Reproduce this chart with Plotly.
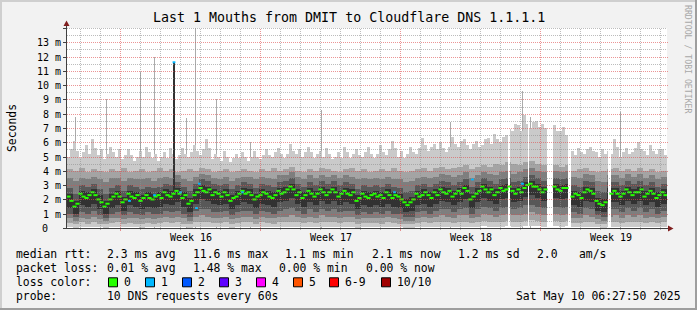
import numpy as np
import plotly.graph_objects as go

# ---------------------------------------------------------------- data
TITLE = "Last 1 Mouths from DMIT to Cloudflare DNS 1.1.1.1"
Y_TITLE = "Seconds"
WATERMARK = "RRDTOOL / TOBI OETIKER"
TIMESTAMP = "Sat May 10 06:27:50 2025"
PROBE_TEXT = "10 DNS requests every 60s"

DAYS_SHOWN = 30
Y_MAX = 14
BIN_DAYS = 0.3                      # one smoke column = 7.2 h
FINE_DAYS = 0.15                    # median / max columns = 3.6 h

# day grid / week boundaries (days from the left edge of the graph)
day_lines = [0.675 + k for k in range(30)]
week_start = [2.675, 9.675, 16.675, 23.675]
week_labels = ["Week 16", "Week 17", "Week 18", "Week 19"]

y_tick_vals = list(range(0, 14))
y_tick_text = ["0"] + [f"{v} m" for v in range(1, 14)]

# median RTT per fine column (ms)
med = [2.2,1.9,1.5,1.7,2.4,2.2,2.1,2.3,2.5,2.3,2.0,1.8,1.5,1.7,2.0,2.2,2.4,2.2,1.8,2.0,
       2.4,2.2,2.1,2.3,1.9,2.1,2.3,2.1,2.0,2.2,2.3,2.1,2.5,2.3,2.2,2.4,2.6,2.4,2.1,2.3,
       1.7,1.9,2.3,2.5,2.8,2.6,2.5,2.7,2.3,2.5,2.4,2.2,2.5,2.3,1.9,2.1,2.2,2.4,2.6,2.4,
       2.5,2.3,2.0,2.2,2.3,2.5,2.4,2.2,2.1,2.3,2.6,2.4,2.5,2.7,2.9,2.7,2.3,2.5,2.1,2.3,
       2.6,2.4,2.2,2.4,2.7,2.5,2.3,2.5,2.7,2.5,2.2,2.4,2.6,2.4,2.3,2.5,1.9,2.1,2.4,2.2,
       2.1,2.3,2.4,2.2,2.3,2.1,2.5,2.3,2.1,2.3,2.2,2.0,1.8,1.6,1.8,2.0,2.4,2.2,2.3,2.5,
       2.3,2.1,2.5,2.3,2.7,2.5,2.4,2.6,2.2,2.4,2.6,2.4,2.8,2.6,2.0,2.2,2.4,2.6,2.9,2.7,
       2.5,2.7,2.3,2.5,2.8,2.6,2.7,2.9,2.6,2.4,2.7,2.5,2.8,3.0,3.1,2.9,2.9,2.7,2.5,2.7,
       None,None,2.9,2.7,2.6,2.8,2.8,None,2.2,2.4,2.3,2.1,2.5,2.7,2.6,2.4,1.9,1.7,1.6,1.8,
       None,2.4,2.6,2.4,2.2,2.4,2.7,2.5,2.3,2.5,2.5,2.7,2.2,2.4,2.6,2.4,2.1,2.3,2.5,2.3]

# slowest ping per fine column (ms)
p10 = [5.0,5.5,6.1,5.4,4.9,5.3,5.8,5.2,6.2,5.6,5.1,5.5,4.8,5.2,5.7,5.3,5.0,5.5,4.8,5.1,
       5.5,5.1,4.7,5.0,5.4,5.0,5.7,5.3,4.9,5.2,4.7,5.0,5.3,4.9,5.6,5.2,4.8,5.1,5.6,5.2,
       5.0,5.3,5.8,5.4,5.1,5.5,6.2,5.6,4.8,5.2,5.0,4.7,5.4,5.0,4.6,4.9,5.2,4.9,5.3,5.0,
       4.7,5.0,5.4,5.0,4.8,5.1,5.5,5.1,5.0,5.3,5.6,5.2,4.9,5.2,5.9,5.4,5.2,5.5,5.0,5.3,
       5.7,5.3,4.9,5.2,5.4,5.0,5.6,5.2,4.8,5.0,5.3,4.9,5.7,5.3,4.9,5.2,5.5,5.1,5.0,5.3,
       5.7,5.2,4.9,5.2,5.8,5.3,5.1,5.5,6.1,5.6,5.0,5.4,4.9,5.2,5.7,5.3,5.2,5.6,6.3,5.8,
       5.4,5.7,5.9,5.5,6.0,5.6,5.3,5.7,6.4,5.9,5.7,6.1,6.2,5.8,5.5,5.9,6.1,5.7,5.8,6.2,
       6.3,5.9,6.6,6.2,6.0,6.4,6.5,6.9,6.8,7.3,7.2,6.8,7.9,7.3,6.9,7.4,7.5,7.1,7.3,7.0,
       7.0,7.2,7.2,6.8,6.8,7.1,6.5,6.3,5.4,5.1,5.6,5.3,5.2,5.5,5.7,5.4,5.3,5.0,5.5,5.2,
       5.4,5.2,6.2,5.7,5.0,5.3,5.6,5.2,5.3,5.6,6.0,5.5,5.4,5.1,5.8,5.4,5.2,5.5,5.5,5.1]

# remaining sorted pings per smoke column (ms): p1 = fastest ... p9
p9 = [4.1,4.0,4.2,3.9,4.1,4.0,3.9,4.1,4.0,4.2,
      3.9,4.0,4.1,3.9,4.0,4.2,4.0,4.1,3.9,4.0,
      4.1,4.0,4.2,4.1,3.9,4.0,4.1,3.9,4.0,4.1,
      4.0,3.9,4.1,4.0,4.2,4.0,4.1,4.3,4.0,3.9,
      4.1,4.0,4.2,4.1,4.0,3.9,4.1,4.2,4.0,4.1,
      3.9,4.0,4.1,4.0,4.2,4.0,3.9,4.0,4.1,4.2,
      4.0,4.2,4.3,4.1,4.2,4.3,4.4,4.1,4.3,4.4,
      4.3,4.5,4.4,4.6,4.5,4.4,4.6,4.7,4.5,4.4,
      4.5,4.4,4.3,4.4,4.0,4.1,4.2,4.0,3.9,4.0,
      4.1,4.2,4.0,4.1,4.0,4.2,4.0,4.1,3.9,4.0]
p8 = [3.5,3.3,3.5,3.4,3.6,3.4,3.2,3.5,3.5,3.3,
      3.5,3.4,3.4,3.5,3.3,3.5,3.6,3.5,3.7,3.4,
      3.3,3.6,3.8,3.7,3.5,3.4,3.6,3.3,3.5,3.6,
      3.6,3.4,3.6,3.5,3.4,3.7,3.7,3.9,3.6,3.4,
      3.7,3.5,3.7,3.6,3.7,3.5,3.7,3.6,3.4,3.5,
      3.4,3.5,3.4,3.6,3.4,3.4,3.2,3.3,3.5,3.6,
      3.5,3.6,3.8,3.7,3.6,3.7,3.9,3.5,3.7,3.9,
      3.8,3.7,3.9,4.0,3.8,3.9,4.1,4.2,4.0,3.9,
      4.0,4.0,3.9,4.0,3.6,3.5,3.8,3.7,3.3,3.2,
      3.7,3.7,3.5,3.8,3.6,3.8,3.5,3.7,3.4,3.6]
p7 = [2.8,2.4,3.0,2.9,3.1,2.7,2.4,2.8,3.0,2.6,
      3.0,2.9,2.7,2.9,2.8,2.9,3.1,3.0,3.2,2.9,
      2.6,3.1,3.4,3.3,3.1,3.0,3.1,2.7,3.0,3.2,
      3.1,2.8,3.1,3.0,2.9,3.2,3.3,3.5,3.1,2.9,
      3.2,3.0,3.3,3.1,3.3,3.0,3.2,3.1,2.7,3.0,
      2.9,3.0,2.9,3.1,2.9,2.8,2.5,2.6,3.0,3.1,
      2.9,3.1,3.3,3.2,3.0,3.2,3.4,2.9,3.2,3.5,
      3.3,3.1,3.4,3.5,3.2,3.3,3.6,3.7,3.5,3.3,
      3.5,3.5,3.4,3.5,3.0,2.9,3.3,3.2,2.6,2.5,
      3.2,3.2,3.0,3.3,3.1,3.3,3.0,3.2,2.9,3.1]
p6 = [2.4,1.9,2.6,2.5,2.7,2.3,1.9,2.4,2.6,2.2,
      2.6,2.5,2.3,2.5,2.4,2.5,2.7,2.6,2.8,2.5,
      2.1,2.7,3.0,2.9,2.7,2.6,2.7,2.3,2.6,2.8,
      2.7,2.4,2.7,2.6,2.5,2.8,2.9,3.1,2.7,2.5,
      2.8,2.6,2.9,2.7,2.9,2.6,2.8,2.7,2.3,2.6,
      2.5,2.6,2.5,2.7,2.5,2.4,2.0,2.2,2.6,2.7,
      2.5,2.7,2.9,2.8,2.6,2.8,3.0,2.4,2.8,3.1,
      2.9,2.7,3.0,3.1,2.8,2.9,3.2,3.3,3.1,2.9,
      3.1,3.1,3.0,3.1,2.6,2.5,2.9,2.8,2.1,2.0,
      2.8,2.8,2.6,2.9,2.7,2.9,2.6,2.8,2.5,2.7]
p5 = [1.4,1.0,1.6,1.5,1.7,1.3,1.0,1.4,1.6,1.2,
      1.6,1.5,1.3,1.5,1.4,1.5,1.7,1.6,1.8,1.5,
      1.1,1.7,2.0,1.9,1.7,1.6,1.7,1.3,1.6,1.8,
      1.7,1.4,1.7,1.6,1.5,1.8,1.9,2.1,1.7,1.5,
      1.8,1.6,1.9,1.7,1.9,1.6,1.8,1.7,1.3,1.6,
      1.5,1.6,1.5,1.7,1.5,1.4,1.1,1.2,1.6,1.7,
      1.5,1.7,1.9,1.8,1.6,1.8,2.0,1.4,1.8,2.1,
      1.9,1.7,2.0,2.1,1.8,1.9,2.2,2.3,2.1,1.9,
      2.1,2.1,2.0,2.1,1.6,1.5,1.9,1.8,1.2,1.1,
      1.8,1.8,1.6,1.9,1.7,1.9,1.6,1.8,1.5,1.7]
p4 = [1.0,0.8,1.1,1.0,1.2,0.9,0.7,1.0,1.1,0.9,
      1.1,1.0,0.9,1.1,1.0,1.0,1.2,1.1,1.2,1.0,
      0.8,1.2,1.3,1.3,1.1,1.1,1.2,0.9,1.1,1.2,
      1.2,1.0,1.2,1.1,1.0,1.2,1.3,1.4,1.2,1.0,
      1.3,1.1,1.3,1.2,1.3,1.1,1.2,1.2,0.9,1.1,
      1.0,1.1,1.0,1.2,1.0,1.0,0.8,0.8,1.1,1.2,
      1.0,1.2,1.3,1.3,1.1,1.3,1.4,1.0,1.3,1.5,
      1.4,1.2,1.4,1.5,1.3,1.4,1.6,1.6,1.5,1.4,
      1.5,1.5,1.4,1.5,1.1,1.0,1.4,1.3,0.9,0.8,
      1.3,1.3,1.1,1.4,1.2,1.4,1.1,1.3,1.0,1.2]
p3 = [0.7,0.5,0.7,0.6,0.8,0.6,0.5,0.7,0.7,0.6,
      0.7,0.7,0.6,0.7,0.6,0.7,0.8,0.7,0.8,0.7,
      0.5,0.8,0.9,0.8,0.7,0.7,0.8,0.6,0.7,0.8,
      0.8,0.6,0.8,0.7,0.7,0.8,0.8,0.9,0.8,0.7,
      0.8,0.7,0.9,0.8,0.8,0.7,0.8,0.8,0.6,0.7,
      0.7,0.7,0.7,0.8,0.7,0.6,0.5,0.5,0.7,0.8,
      0.7,0.8,0.9,0.8,0.7,0.9,0.9,0.7,0.8,1.0,
      0.9,0.8,0.9,1.0,0.9,0.9,1.0,1.1,1.0,0.9,
      1.0,1.0,0.9,1.0,0.7,0.7,0.9,0.8,0.6,0.5,
      0.8,0.9,0.7,0.9,0.8,0.9,0.7,0.8,0.7,0.8]
p2 = [0.35,0.25,0.4,0.3,0.4,0.3,0.25,0.35,0.4,0.3,
      0.35,0.3,0.3,0.35,0.3,0.35,0.4,0.35,0.4,0.3,
      0.25,0.4,0.45,0.4,0.35,0.35,0.4,0.3,0.35,0.4,
      0.4,0.3,0.4,0.35,0.3,0.4,0.4,0.45,0.4,0.35,
      0.4,0.35,0.45,0.4,0.4,0.35,0.4,0.4,0.3,0.35,
      0.35,0.35,0.3,0.4,0.35,0.3,0.25,0.25,0.35,0.4,
      0.35,0.4,0.45,0.4,0.35,0.45,0.45,0.35,0.4,0.5,
      0.45,0.4,0.45,0.5,0.45,0.45,0.5,0.55,0.5,0.45,
      0.5,0.5,0.45,0.5,0.35,0.35,0.45,0.4,0.3,0.25,
      0.4,0.45,0.35,0.45,0.4,0.45,0.35,0.4,0.35,0.4]
p1 = [0.05,0.0,0.1,0.05,0.1,0.05,0.0,0.05,0.1,0.05,
      0.05,0.05,0.0,0.05,0.05,0.05,0.1,0.05,0.1,0.05,
      0.0,0.1,0.1,0.1,0.05,0.05,0.1,0.0,0.05,0.1,
      0.1,0.05,0.1,0.05,0.05,0.1,0.1,0.1,0.1,0.05,
      0.1,0.05,0.1,0.1,0.1,0.05,0.1,0.1,0.0,0.05,
      0.05,0.05,0.05,0.1,0.05,0.05,0.0,0.0,0.05,0.1,
      0.05,0.1,0.1,0.1,0.05,0.1,0.1,0.05,0.1,0.15,
      0.1,0.1,0.1,0.15,0.1,0.1,0.15,0.15,0.15,0.1,
      0.15,0.15,0.1,0.15,0.05,0.05,0.1,0.1,0.05,0.0,
      0.1,0.1,0.05,0.1,0.1,0.1,0.05,0.1,0.05,0.1]

# isolated slow pings (single-sample spikes): day, top (ms)
spike_day = [0.425, 1.975, 3.675, 4.375, 5.975, 6.425, 7.475, 9.175, 12.725,
             19.175, 22.775, 23.175, 27.675]
spike_ms = [7.8, 9.0, 10.9, 12.0, 7.7, 14.0, 9.0, 6.0, 8.25,
            7.4, 9.6, 7.8, 8.1]

# one sample where the whole burst was slow (dark smoke up to the median)
dark_spike_day = [5.35]
dark_spike_lo = [2.6]
dark_spike_hi = [11.6]

# medians measured with 1/10 loss
loss1_day = [3.125, 4.375, 5.675, 6.475, 6.625, 8.775, 16.375, 20.275, 22.775, 5.35]
loss1_ms = [1.9, 2.3, 2.5, 1.4, 3.1, 2.5, 2.5, 3.4, 3.1, 11.6]

# periods with no data (start day, length in days)
gap_start = [22.05, 23.05, 24.0, 25.05, 27.05]
gap_len = [0.1, 0.05, 0.3, 0.15, 0.15]

# legend statistics
median_avg, median_max, median_min, median_now, median_sd, am_s = 2.3, 11.6, 1.1, 2.1, 1.2, 2.0
loss_avg, loss_max, loss_min, loss_now = 0.01, 1.48, 0.00, 0.00
loss_labels = ["0", "1", "2", "3", "4", "5", "6-9", "10/10"]
loss_colors = ["#26ff00", "#00b8ff", "#0059ff", "#5e00ff", "#ff00ff", "#ff5500", "#ff0000", "#a00000"]

# ---------------------------------------------------------------- geometry
W, H = 697, 310
PL, PT, PW, PH = 67, 28, 600, 200
FONT = "DejaVu Sans Mono"


def fx(px):
    return (px - PL) / PW


def fy(py):
    return (PT + PH - py) / PH


def row_of(v):
    return round(PT + PH - v * PH / Y_MAX)


# ---------------------------------------------------------------- traces
fig = go.Figure()


def add_bars(x, h, base, width, color):
    fig.add_trace(go.Bar(x=x, y=h, base=base, width=width, opacity=1,
                         marker=dict(color=color, line=dict(width=0)),
                         hoverinfo="skip", showlegend=False))


n = len(p9)
nf = len(med)
xc = (np.arange(n) + 0.5) * BIN_DAYS
xf = (np.arange(nf) + 0.5) * FINE_DAYS
rep = nf // n
pings = [np.array(p, float) for p in (p1, p2, p3, p4, p5, p6, p7, p8, p9)]
shades = ["#cacaca", "#a4a4a4", "#7e7e7e", "#585858", "#323232"]

add_bars(spike_day, spike_ms, [0] * len(spike_day), 1 / 20, "#ababab")
# outer band: fastest .. slowest ping
lo_f = np.repeat(pings[0], rep)
add_bars(xf, np.array(p10, float) - lo_f, lo_f, FINE_DAYS, shades[0])
for i in range(1, 5):
    lo, hi = pings[i], pings[9 - i]
    add_bars(xc, hi - lo, lo, BIN_DAYS, shades[i])
add_bars(dark_spike_day, np.array(dark_spike_hi) - np.array(dark_spike_lo),
         dark_spike_lo, 2 / 20, "#323232")
gs = np.array(gap_start)
gl = np.array(gap_len)
add_bars(gs + gl / 2, [Y_MAX] * len(gs), [0] * len(gs), gl, "#ffffff")

fig.add_trace(go.Scatter(x=xf, y=med, mode="markers", hoverinfo="skip", showlegend=False,
                         marker=dict(symbol="line-ew", size=3,
                                     line=dict(color=loss_colors[0], width=2))))
fig.add_trace(go.Scatter(x=loss1_day, y=loss1_ms, mode="markers", hoverinfo="skip", showlegend=False,
                         marker=dict(symbol="line-ew", size=2,
                                     line=dict(color=loss_colors[1], width=2))))

# ---------------------------------------------------------------- shapes
shapes = []
GRID = "rgba(143,143,143,0.6)"
MGRID = "rgba(222,79,79,0.6)"
AXIS = "#404040"
ARROW = "#801f1f"


def pline(x0, y0, x1, y1, color, dash="solid", width=1):
    shapes.append(dict(type="line", xref="paper", yref="paper",
                       x0=fx(x0), y0=fy(y0), x1=fx(x1), y1=fy(y1),
                       line=dict(color=color, width=width, dash=dash), layer="above"))


def prect(x0, y0, x1, y1, fill, line_color=None):
    shapes.append(dict(type="rect", xref="paper", yref="paper",
                       x0=fx(x0), y0=fy(y0), x1=fx(x1), y1=fy(y1), fillcolor=fill,
                       line=dict(color=line_color or fill, width=1 if line_color else 0),
                       layer="above"))


# frame
prect(0, 0, W, 2, "#cfcfcf")
prect(0, 0, 2, H, "#cfcfcf")
prect(0, H - 2, W, H, "#9e9e9e")
prect(W - 2, 0, W, H, "#9e9e9e")

# vertical grid (days, weeks)
for d in day_lines:
    major = any(abs(d - w) < 1e-6 for w in week_start)
    shapes.append(dict(type="line", xref="x", yref="paper", x0=d, x1=d, y0=fy(PT + PH), y1=fy(PT),
                       line=dict(color=MGRID if major else GRID, width=1, dash="1px,1px"),
                       layer="above"))
    px = PL + d * PW / DAYS_SHOWN
    pline(px, PT + PH + 0.5, px, PT + PH + (3 if major else 2), MGRID if major else GRID)

# horizontal grid (0.5 ms minor, 1 ms major)
for k in range(1, 2 * Y_MAX + 1):
    v = k / 2
    r = row_of(v) + 0.5
    major = (k % 2 == 0) and v < Y_MAX
    pline(PL, r, PL + PW + (2 if major else 0), r, MGRID if major else GRID, "1px,1px")
    if k % 2 == 0:
        pline(PL - 4, r, PL, r, AXIS)

# axes + arrows
pline(PL - 0.5, PT + PH + 0.5, PL - 0.5, PT - 3, AXIS)
pline(PL - 4, PT + PH + 0.5, PL + PW + 2, PT + PH + 0.5, AXIS)
shapes.append(dict(type="path", xref="paper", yref="paper", fillcolor=ARROW, line=dict(width=0),
                   path=f"M {fx(PL-0.5)},{fy(20.5)} L {fx(PL-3.5)},{fy(26)} L {fx(PL+2.5)},{fy(26)} Z"))
shapes.append(dict(type="path", xref="paper", yref="paper", fillcolor=ARROW, line=dict(width=0),
                   path=f"M {fx(673.5)},{fy(PT+PH+0.5)} L {fx(668)},{fy(PT+PH-2.5)} L {fx(668)},{fy(PT+PH+3.5)} Z"))

# ---------------------------------------------------------------- text
annots = []


def text(t, px, py, size, xanchor="left", color="#000000", angle=0, xref="paper", xval=None):
    annots.append(dict(text=t, xref=xref, x=fx(px) if xval is None else xval,
                       yref="paper", y=fy(py), xanchor=xanchor, yanchor="middle",
                       showarrow=False, textangle=angle, borderpad=0, borderwidth=0,
                       font=dict(family=FONT, size=size, color=color)))


text(TITLE, 348.5, 18, 13.3, "center")
text(Y_TITLE, 12, 128, 11.4, "center", angle=-90)
text(WATERMARK, 687.5, 59.5, 8.2, "center", color="#a8a8a8", angle=90)

for v, t in zip(y_tick_vals, y_tick_text):
    if v == 0:
        text(t, 47.5, row_of(v) + 0.5, 10, "right")
    else:
        text(t, 60.8, row_of(v) + 0.5, 10, "right")

for ws, lab in zip(week_start, week_labels):
    text(lab, 0, 237.5, 10, "center", xref="x", xval=ws + 3.5)

ROW1, ROW2, ROW3, ROW4 = 254.3, 268.3, 282.3, 296
LS = 11.4
row1 = ["median rtt:", f"{median_avg:.1f} ms avg", f"{median_max:.1f} ms max",
        f"{median_min:.1f} ms min", f"{median_now:.1f} ms now", f"{median_sd:.1f} ms sd",
        f"{am_s:.1f}", "am/s"]
row1_x = [16, 107.3, 193.3, 285, 371.7, 458.3, 537.3, 579.3]
for t, x in zip(row1, row1_x):
    text(t, x, ROW1, LS)
row2 = ["packet loss:", f"{loss_avg:.2f} % avg", f"{loss_max:.2f} % max",
        f"{loss_min:.2f} % min", f"{loss_now:.2f} % now"]
row2_x = [16, 107.3, 193.3, 279.3, 365.5]
for t, x in zip(row2, row2_x):
    text(t, x, ROW2, LS)
text("loss color:", 16, ROW3, LS)
box_x = [108.5, 145.5, 182.5, 219.5, 256.5, 293.5, 329.5, 381.5]
for bx, lab, col in zip(box_x, loss_labels, loss_colors):
    prect(bx, ROW3 - 4.5, bx + 9, ROW3 + 4.5, col, "#000000")
    text(lab, bx + 15.3, ROW3, LS)
text("probe:", 16, ROW4, LS)
text(PROBE_TEXT, 107.3, ROW4, LS)
text(TIMESTAMP, 680.5, ROW4, LS, "right")

# ---------------------------------------------------------------- layout
fig.update_layout(
    width=W, height=H, margin=dict(l=PL, r=W - PL - PW, t=PT, b=H - PT - PH, pad=0),
    paper_bgcolor="#f2f2f2", plot_bgcolor="#ffffff",
    barmode="overlay", bargap=0, showlegend=False,
    xaxis=dict(range=[0, DAYS_SHOWN], showgrid=False, zeroline=False, showticklabels=False,
               ticks="", showline=False, fixedrange=True),
    yaxis=dict(range=[0, Y_MAX], showgrid=False, zeroline=False, showticklabels=False,
               ticks="", showline=False, fixedrange=True),
    shapes=shapes, annotations=annots,
    font=dict(family=FONT, color="#000000"),
)

fig.write_html("out.html")
